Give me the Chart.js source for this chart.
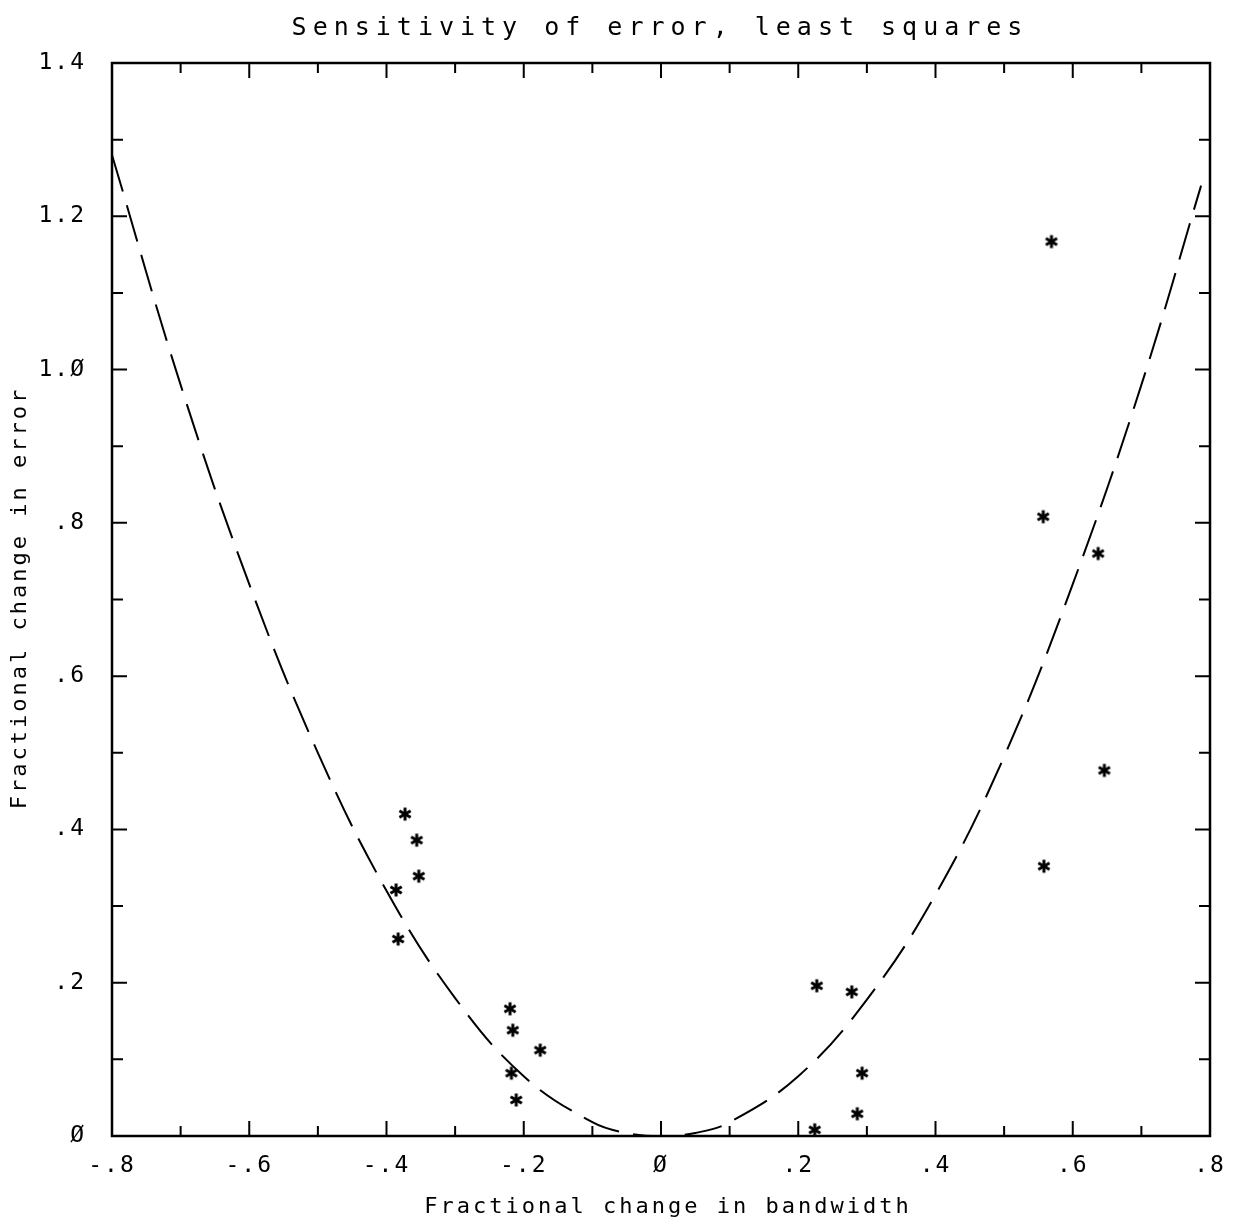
<!DOCTYPE html>
<html>
<head>
<meta charset="utf-8">
<script src="https://cdn.jsdelivr.net/npm/chart.js@4/dist/chart.umd.min.js"></script>
<style>
  html, body { margin: 0; padding: 0; background: #fff; }
  #wrap { width: 1238px; height: 1226px; }
</style>
</head>
<body>
<div id="wrap"><canvas id="myChart" width="1238" height="1226"></canvas></div>
<script>
// Data
const curveX = [-0.8, -0.7, -0.6, -0.5, -0.4, -0.3, -0.2, -0.1, -0.05, 0, 0.05, 0.1, 0.2, 0.3, 0.4, 0.5, 0.6, 0.7, 0.787];
const curveY = [1.28, 0.98, 0.72, 0.5, 0.32, 0.18, 0.078, 0.018, 0.004, 0.0, 0.004, 0.018, 0.078, 0.178, 0.315, 0.495, 0.72, 0.98, 1.24];

const starX = [0.569, 0.557, 0.637, 0.646, 0.558, -0.373, -0.356, -0.353, -0.386, -0.383, -0.220, -0.216, -0.176, -0.218, -0.211, 0.227, 0.278, 0.293, 0.286, 0.224];
const starY = [1.167, 0.808, 0.760, 0.477, 0.352, 0.420, 0.386, 0.339, 0.321, 0.257, 0.166, 0.138, 0.112, 0.082, 0.047, 0.196, 0.188, 0.082, 0.029, 0.008];

const xTicks = [-0.8, -0.6, -0.4, -0.2, 0, 0.2, 0.4, 0.6, 0.8];
const yTicks = [0, 0.2, 0.4, 0.6, 0.8, 1.0, 1.2, 1.4];

const titleText = 'Sensitivity of error, least squares';
const xTitle = 'Fractional change in bandwidth';
const yTitle = 'Fractional change in error';

const FONT = '"DejaVu Sans Mono", monospace';

// plotter style label: slashed zero, no leading zero
function fmt(v) {
    const r = Math.round(v * 10) / 10;
    if (r === 0) return 'Ø';
    let s = r.toFixed(1).replace('0.', '.');
    if (s.endsWith('.0')) s = s.replace('.0', '.Ø');
    return s;
}

// six pointed asterisk marker
function makeStar() {
    const c = document.createElement('canvas');
    c.width = 16; c.height = 16;
    const g = c.getContext('2d');
    g.strokeStyle = '#000';
    g.lineWidth = 3;
    for (let i = 0; i < 3; i++) {
        const a = Math.PI / 2 + i * Math.PI / 3;
        g.beginPath();
        g.moveTo(8 - Math.cos(a) * 6.5, 8 - Math.sin(a) * 6.5);
        g.lineTo(8 + Math.cos(a) * 6.5, 8 + Math.sin(a) * 6.5);
        g.stroke();
    }
    return c;
}

const frame = {
    id: 'frame',
    beforeDraw(chart) {
        chart.ctx.letterSpacing = '2px';
    },
    afterDraw(chart) {
        const ctx = chart.ctx;
        const a = chart.chartArea;
        const xs = chart.scales.x, ys = chart.scales.y;
        ctx.save();
        ctx.strokeStyle = '#000';
        ctx.lineWidth = 2.5;
        ctx.strokeRect(a.left, a.top, a.right - a.left, a.bottom - a.top);
        ctx.lineWidth = 2;
        // inward ticks every .1, longer on labelled values
        for (let i = -8; i <= 8; i++) {
            const px = xs.getPixelForValue(i / 10);
            const len = i % 2 === 0 ? 15 : 10;
            ctx.beginPath();
            ctx.moveTo(px, a.bottom); ctx.lineTo(px, a.bottom - len);
            ctx.moveTo(px, a.top); ctx.lineTo(px, a.top + len);
            ctx.stroke();
        }
        for (let i = 0; i <= 14; i++) {
            const py = ys.getPixelForValue(i / 10);
            const len = i % 2 === 0 ? 15 : 11;
            ctx.beginPath();
            ctx.moveTo(a.left, py); ctx.lineTo(a.left + len, py);
            ctx.moveTo(a.right, py); ctx.lineTo(a.right - len, py);
            ctx.stroke();
        }
        // titles
        ctx.fillStyle = '#000';
        ctx.textAlign = 'center';
        ctx.textBaseline = 'middle';
        ctx.font = '25px ' + FONT;
        ctx.letterSpacing = '6px';
        ctx.fillText(titleText, 660, 28);
        ctx.font = '22px ' + FONT;
        ctx.letterSpacing = '3px';
        ctx.fillText(xTitle, 668, 1207);
        ctx.translate(20, 598);
        ctx.rotate(-Math.PI / 2);
        ctx.fillText(yTitle, 0, 0);
        ctx.restore();
    }
};

const ctx = document.getElementById('myChart').getContext('2d');
const chart = new Chart(ctx, {
    type: 'scatter',
    data: {
        datasets: [{
            label: 'fit',
            data: curveX.map((x, i) => ({ x: x, y: curveY[i] })),
            showLine: true,
            borderColor: '#000',
            borderWidth: 2,
            borderDash: [38, 14],
            tension: 0.4,
            pointRadius: 0,
            fill: false
        }, {
            label: 'measured',
            data: starX.map((x, i) => ({ x: x, y: starY[i] })),
            pointStyle: makeStar(),
            pointRadius: 7,
            showLine: false
        }]
    },
    options: {
        responsive: false,
        animation: false,
        layout: { padding: { left: 0, top: 63, right: 28, bottom: 0 } },
        plugins: {
            legend: { display: false },
            tooltip: { enabled: false }
        },
        scales: {
            x: {
                type: 'linear',
                min: -0.8,
                max: 0.8,
                afterFit(s) { s.height = 90; },
                afterBuildTicks(s) { s.ticks = xTicks.map(v => ({ value: v })); },
                grid: { display: false },
                border: { display: false },
                ticks: {
                    color: '#000',
                    padding: 8,
                    maxRotation: 0,
                    autoSkip: false,
                    font: { family: FONT, size: 23 },
                    callback: v => fmt(v)
                }
            },
            y: {
                type: 'linear',
                min: 0,
                max: 1.4,
                afterFit(s) { s.width = 112; },
                afterBuildTicks(s) { s.ticks = yTicks.map(v => ({ value: v })); },
                grid: { display: false },
                border: { display: false },
                ticks: {
                    color: '#000',
                    padding: 18,
                    autoSkip: false,
                    font: { family: FONT, size: 23 },
                    callback: v => fmt(v)
                }
            }
        }
    },
    plugins: [frame]
});
</script>
</body>
</html>
